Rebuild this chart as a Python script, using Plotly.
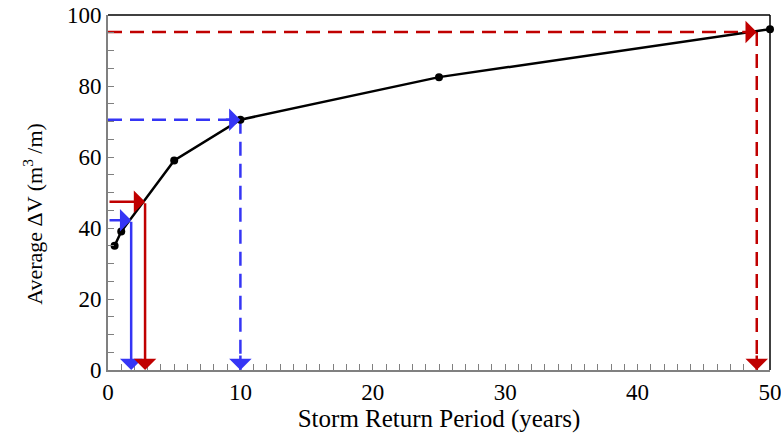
import plotly.graph_objects as go

# Data
return_period = [0.5, 1, 5, 10, 25, 50]
avg_dv = [35, 39, 59, 70.5, 82.5, 96]

# Arrow guides: (x value, y value)
blue_solid = (1.75, 42.2)
red_solid = (2.8, 47.4)
blue_dashed = (10, 70.5)
red_dashed = (49, 95.2)

BLUE = "#3535f5"
RED = "#c00000"
DASH = "14px,8px"
AW = 2.5
AS = 1.5

fig = go.Figure()

def dashed_guide(pt, color):
    x, y = pt
    fig.add_trace(go.Scatter(x=[0, x], y=[y, y], mode="lines",
                             line=dict(color=color, width=AW, dash=DASH),
                             showlegend=False, hoverinfo="skip"))
    fig.add_trace(go.Scatter(x=[x, x], y=[y, 0], mode="lines",
                             line=dict(color=color, width=AW, dash=DASH),
                             showlegend=False, hoverinfo="skip"))
    fig.add_annotation(x=x, y=y, ax=-16, ay=0, axref="pixel", ayref="pixel",
                       xref="x", yref="y", text="", showarrow=True,
                       arrowhead=1, arrowsize=AS, arrowwidth=AW, arrowcolor=color)
    fig.add_annotation(x=x, y=0, ax=0, ay=-16, axref="pixel", ayref="pixel",
                       xref="x", yref="y", text="", showarrow=True,
                       arrowhead=1, arrowsize=AS, arrowwidth=AW, arrowcolor=color)

def solid_guide(pt, color):
    x, y = pt
    fig.add_annotation(x=x, y=y, ax=0, ay=y, axref="x", ayref="y",
                       xref="x", yref="y", text="", showarrow=True,
                       arrowhead=1, arrowsize=AS, arrowwidth=AW, arrowcolor=color)
    fig.add_annotation(x=x, y=0, ax=x, ay=y, axref="x", ayref="y",
                       xref="x", yref="y", text="", showarrow=True,
                       arrowhead=1, arrowsize=AS, arrowwidth=AW, arrowcolor=color)

dashed_guide(blue_dashed, BLUE)
dashed_guide(red_dashed, RED)
solid_guide(blue_solid, BLUE)
solid_guide(red_solid, RED)

fig.add_trace(go.Scatter(x=return_period, y=avg_dv, mode="lines+markers",
                         line=dict(color="black", width=2.5),
                         marker=dict(color="black", size=8),
                         showlegend=False, cliponaxis=False))

# top and right frame lines
fig.add_shape(type="line", xref="paper", yref="paper", x0=0, x1=1, y0=1, y1=1,
              line=dict(color="black", width=1.5))
fig.add_shape(type="line", xref="paper", yref="paper", x0=1, x1=1, y0=0, y1=1,
              line=dict(color="black", width=1.5))

TICKFONT = dict(family="Liberation Serif", size=23, color="black")
XTITLEFONT = dict(family="Liberation Serif", size=25, color="black")
YTITLEFONT = dict(family="Liberation Serif", size=22, color="black")

# y-axis title as rotated annotation
fig.add_annotation(text="Average ΔV (m<sup>3</sup> /m)", xref="paper", yref="paper",
                   x=0, y=0.44, xanchor="center", yanchor="middle", xshift=-75,
                   textangle=-90, showarrow=False, font=YTITLEFONT)

fig.update_layout(
    width=781, height=439,
    margin=dict(l=108, r=11, t=15, b=69, autoexpand=False),
    plot_bgcolor="white", paper_bgcolor="white",
    font=TICKFONT,
    xaxis=dict(range=[0, 50], dtick=10, showgrid=False, zeroline=False,
               showline=True, linecolor="#808080", linewidth=2,
               ticks="inside", ticklen=6, tickcolor="#808080", tickwidth=1,
               ticklabeloverflow="allow", automargin=False,
               minor=dict(dtick=1, ticks="inside", ticklen=6, tickcolor="#808080", showgrid=False),
               title=dict(text="Storm Return Period (years)", font=XTITLEFONT, standoff=4),
               tickfont=TICKFONT),
    yaxis=dict(range=[0, 100], dtick=20, showgrid=False, zeroline=False,
               showline=True, linecolor="#808080", linewidth=2,
               ticks="inside", ticklen=6, tickcolor="#808080", tickwidth=1,
               automargin=False,
               minor=dict(dtick=5, ticks="inside", ticklen=6, tickcolor="#808080", showgrid=False),
               tickfont=TICKFONT),
)

fig.write_html("out.html")
